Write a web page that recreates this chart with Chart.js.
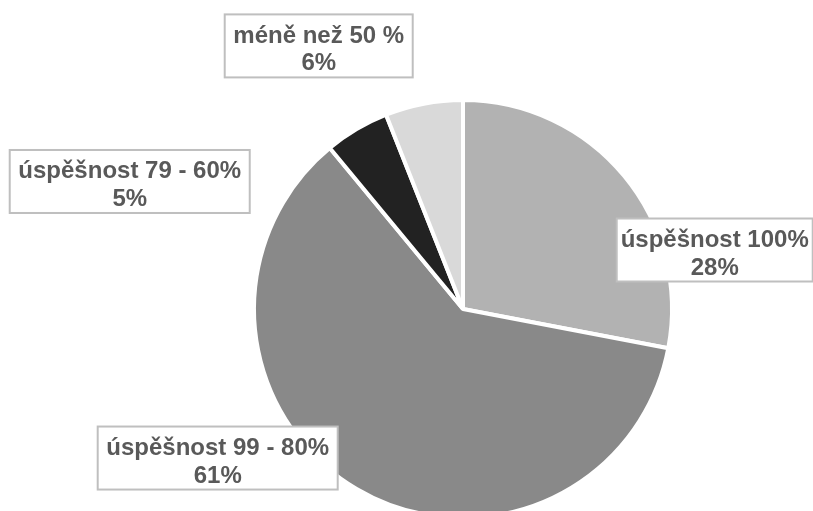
<!DOCTYPE html>
<html>
<head>
<meta charset="utf-8">
<script src="https://cdn.jsdelivr.net/npm/chart.js@4"></script>
<style>
  html, body { margin: 0; padding: 0; background: #fff; overflow: hidden; }
  #wrap { width: 813px; height: 511px; position: relative; overflow: hidden; }
</style>
</head>
<body>
<div id="wrap"><canvas id="pie-chart" width="813" height="530"></canvas></div>
<script>
const categories = ['úspěšnost 100%', 'úspěšnost 99 - 80%', 'úspěšnost 79 - 60%', 'méně než 50 %'];
const shares = [28, 61, 5, 6];
const sliceColors = ['#b2b2b2', '#898989', '#222222', '#d9d9d9'];

// label box placement, in units of the pie radius from its centre, plus box width
const labelOffsets = [[1.216, -0.285], [-1.185, 0.720], [-1.610, -0.616], [-0.697, -1.271]];
const labelWidths = [196, 240, 240, 188];

const boxLabels = {
    id: 'boxLabels',
    afterDatasetsDraw(chart) {
        const ctx = chart.ctx;
        const arcs = chart.getDatasetMeta(0).data;
        ctx.save();
        ctx.font = 'bold 24px "Liberation Sans", Arial, sans-serif';
        ctx.textAlign = 'center';
        ctx.textBaseline = 'alphabetic';
        arcs.forEach((arc, i) => {
            const r = arc.outerRadius - 2;
            const cx = arc.x + labelOffsets[i][0] * r;
            const cy = arc.y + labelOffsets[i][1] * r;
            const w = labelWidths[i];
            const h = 63;
            ctx.fillStyle = '#ffffff';
            ctx.fillRect(cx - w / 2, cy - h / 2, w, h);
            ctx.strokeStyle = '#bfbfbf';
            ctx.lineWidth = 2;
            ctx.strokeRect(cx - w / 2, cy - h / 2, w, h);
            ctx.fillStyle = '#595959';
            ctx.fillText(categories[i], cx, cy - 3);
            ctx.fillText(shares[i] + '%', cx, cy + 24.5);
        });
        ctx.restore();
    }
};

const ctx = document.getElementById('pie-chart').getContext('2d');
new Chart(ctx, {
    type: 'pie',
    data: {
        labels: categories,
        datasets: [{
            data: shares,
            backgroundColor: sliceColors,
            borderColor: '#ffffff',
            borderWidth: 4
        }]
    },
    options: {
        responsive: false,
        animation: false,
        layout: {
            padding: { left: 252, right: 139, top: 98, bottom: 10 }
        },
        plugins: {
            legend: { display: false },
            tooltip: { enabled: false }
        }
    },
    plugins: [boxLabels]
});
</script>
</body>
</html>
